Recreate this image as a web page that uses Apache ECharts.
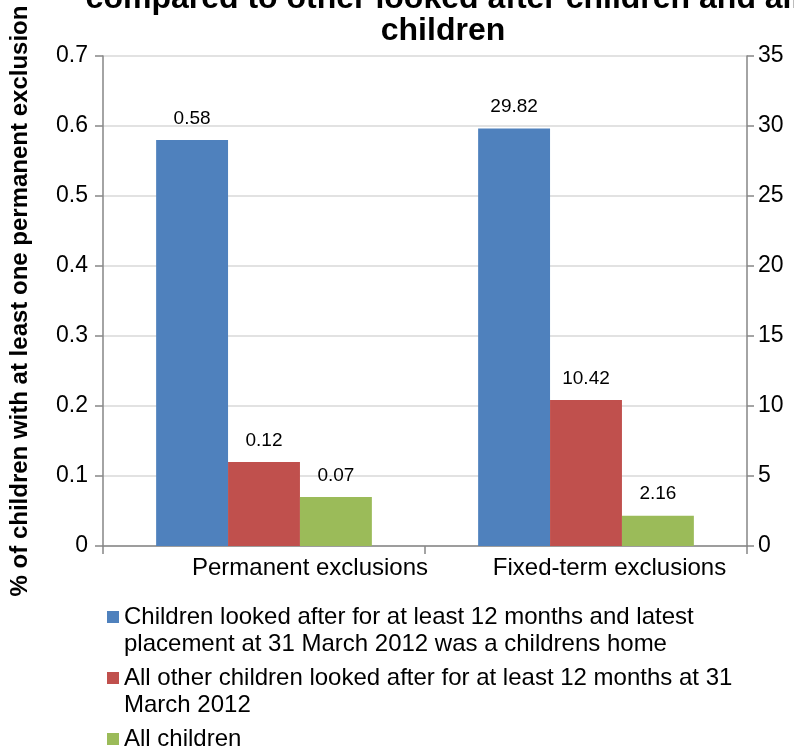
<!DOCTYPE html>
<html>
<head>
<meta charset="utf-8">
<script src="https://cdn.jsdelivr.net/npm/echarts@6/dist/echarts.min.js"></script>
<style>
html,body{margin:0;padding:0;background:#fff;}
#chart{width:794px;height:749px;}
</style>
</head>
<body>
<div id="chart"></div>
<script>
// ---- data ----
var categories = ['Permanent exclusions', 'Fixed-term exclusions'];
var seriesNames = [
  'Children looked after for at least 12 months and latest placement at 31 March 2012 was a childrens home',
  'All other children looked after for at least 12 months at 31 March 2012',
  'All children'
];
var legendLines = [
  ['Children looked after for at least 12 months and latest', 'placement at 31 March 2012 was a childrens home'],
  ['All other children looked after for at least 12 months at 31', 'March 2012'],
  ['All children']
];
var permanentValues = [0.58, 0.12, 0.07];   // left axis (%)
var fixedTermValues = [29.82, 10.42, 2.16]; // right axis (%)
var leftTicks = {min: 0, max: 0.7, interval: 0.1};
var rightTicks = {min: 0, max: 35, interval: 5};
var colors = ['#4F81BD', '#C0504D', '#9BBB59'];
var titleLines = ['compared to other looked after children and all', 'children'];
var yAxisTitle = '% of children with at least one permanent exclusion';

var FONT = 'Liberation Sans, Arial, sans-serif';
var chart = echarts.init(document.getElementById('chart'), null, {renderer: 'canvas'});

var series = [];
for (var i = 0; i < 3; i++) {
  var lbl = {show: true, position: 'top', distance: 12, color: '#000', fontSize: 19, fontFamily: FONT};
  series.push({
    name: seriesNames[i], type: 'bar', yAxisIndex: 0, stack: 'g' + i,
    data: [permanentValues[i], '-'],
    itemStyle: {color: colors[i]}, label: lbl,
    barCategoryGap: '33%', barGap: '0%'
  });
  series.push({
    name: seriesNames[i], type: 'bar', yAxisIndex: 1, stack: 'g' + i,
    data: ['-', fixedTermValues[i]],
    itemStyle: {color: colors[i]}, label: lbl,
    barCategoryGap: '33%', barGap: '0%'
  });
}

var graphics = [];
graphics.push({type: 'text', x: 443, y: -1, silent: true,
  style: {text: titleLines[0], font: 'bold 32px ' + FONT, fill: '#000', textAlign: 'center', textVerticalAlign: 'middle'}});
graphics.push({type: 'text', x: 443, y: 31, silent: true,
  style: {text: titleLines[1], font: 'bold 32px ' + FONT, fill: '#000', textAlign: 'center', textVerticalAlign: 'middle'}});

var lineY = 617;
for (var k = 0; k < 3; k++) {
  graphics.push({type: 'rect', shape: {x: 107, y: lineY - 6, width: 12, height: 12}, style: {fill: colors[k]}, silent: true});
  for (var j = 0; j < legendLines[k].length; j++) {
    graphics.push({type: 'text', x: 124, y: lineY + j * 27, silent: true,
      style: {text: legendLines[k][j], font: '24px ' + FONT, fill: '#000', textAlign: 'left', textVerticalAlign: 'middle'}});
  }
  lineY += legendLines[k].length * 27 + 7;
}

var option = {
  animation: false,
  backgroundColor: '#fff',
  textStyle: {fontFamily: FONT},
  grid: {left: 100, right: 47, top: 56, bottom: 203, containLabel: false},
  xAxis: {
    type: 'category', data: categories,
    axisLine: {lineStyle: {color: '#868686', width: 1.5}},
    axisTick: {show: true, alignWithLabel: false, length: 8, lineStyle: {color: '#868686', width: 1.5}},
    axisLabel: {
      interval: 0, margin: 10, color: '#000', fontSize: 24, fontFamily: FONT,
      formatter: function (v, idx) { return idx === 0 ? '{a|' + v + '}' : '{b|' + v + '}'; },
      rich: {
        a: {fontSize: 24, fontFamily: FONT, color: '#000', padding: [0, 0, 0, 92]},
        b: {fontSize: 24, fontFamily: FONT, color: '#000', padding: [0, 0, 0, 47]}
      }
    }
  },
  yAxis: [
    {
      type: 'value', min: leftTicks.min, max: leftTicks.max, interval: leftTicks.interval,
      name: yAxisTitle, nameLocation: 'middle', nameGap: 71,
      nameTextStyle: {fontSize: 24, fontWeight: 'bold', color: '#000', fontFamily: FONT},
      axisLine: {show: true, lineStyle: {color: '#868686', width: 1.5}},
      axisTick: {show: true, length: 8, lineStyle: {color: '#868686', width: 1.5}},
      axisLabel: {margin: 15, color: '#000', fontSize: 23, fontFamily: FONT},
      splitLine: {show: true, lineStyle: {color: '#D9D9D9', width: 1.5}}
    },
    {
      type: 'value', min: rightTicks.min, max: rightTicks.max, interval: rightTicks.interval,
      position: 'right',
      axisLine: {show: true, lineStyle: {color: '#868686', width: 1.5}},
      axisTick: {show: true, length: 7, lineStyle: {color: '#868686', width: 1.5}},
      axisLabel: {margin: 11, color: '#000', fontSize: 23, fontFamily: FONT},
      splitLine: {show: false}
    }
  ],
  series: series,
  graphic: graphics
};
chart.setOption(option);
</script>
</body>
</html>
